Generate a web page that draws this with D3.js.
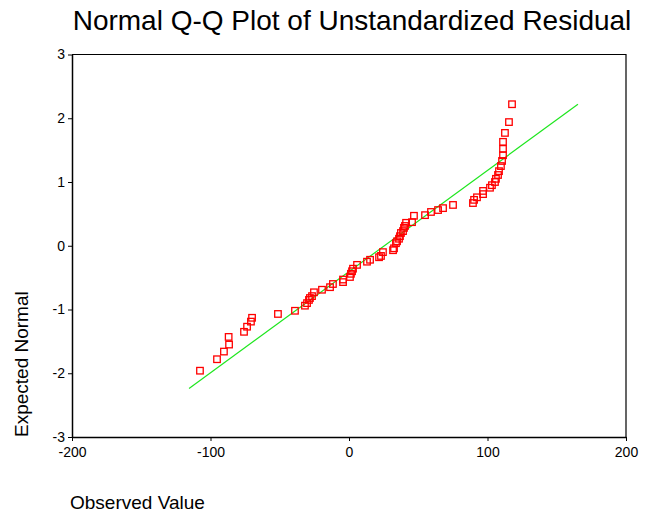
<!DOCTYPE html>
<html>
<head>
<meta charset="utf-8">
<script src="https://cdn.jsdelivr.net/npm/d3@7"></script>
<style>
  html, body { margin: 0; padding: 0; background: #fff; }
  svg { display: block; font-family: "Liberation Sans", Arial, sans-serif; }
</style>
</head>
<body>
<svg id="chart" width="645" height="516"></svg>
<script>
// Observed residuals (x) and expected normal values (y)
const observed = [-107.6, -95.3, -90.3, -86.6, -86.9, -75.8, -73.6, -70.8, -70.0, -51.3,
  -39.0, -31.8, -30.3, -28.9, -28.2, -26.7, -25.3, -19.5, -13.7, -11.6,
  -4.3, -4.3, 0.7, 1.4, 2.2, 2.9, 5.8, 13.0, 15.2, 21.7,
  23.1, 24.5, 31.8, 32.5, 33.9, 34.7, 36.1, 36.8, 37.5, 39.0,
  39.7, 40.4, 41.2, 45.5, 46.9, 54.9, 59.2, 64.3, 67.9, 75.1,
  89.5, 90.3, 92.4, 96.8, 96.8, 101.8, 103.2, 105.4, 106.1, 107.6,
  108.3, 109.7, 110.5, 111.2, 111.2, 111.2, 112.6, 115.5, 117.7];
const expected = [-1.96, -1.78, -1.66, -1.55, -1.43, -1.35, -1.27, -1.19, -1.13, -1.07,
  -1.02, -0.94, -0.90, -0.85, -0.82, -0.79, -0.73, -0.69, -0.65, -0.60,
  -0.57, -0.53, -0.49, -0.44, -0.40, -0.36, -0.30, -0.25, -0.22, -0.18,
  -0.16, -0.10, -0.07, -0.04, 0.04, 0.07, 0.11, 0.15, 0.20, 0.23,
  0.28, 0.31, 0.36, 0.37, 0.47, 0.48, 0.53, 0.56, 0.59, 0.64,
  0.67, 0.72, 0.76, 0.81, 0.86, 0.91, 0.95, 1.00, 1.05, 1.11,
  1.17, 1.25, 1.33, 1.42, 1.52, 1.63, 1.77, 1.94, 2.22];
// Reference line endpoints
const lineX = [-115.5, 165.3];
const lineY = [-2.24, 2.22];
// Tick values
const xTicks = [-200, -100, 0, 100, 200];
const yTicks = [-3, -2, -1, 0, 1, 2, 3];

(function () {
const svg = d3.select("#chart");
const mL = 72, mR = 626, mT = 54.5, mB = 437;
const x = d3.scaleLinear().domain([-200, 200]).range([mL, mR]);
const y = d3.scaleLinear().domain([-3, 3]).range([mB, mT]);
const fmt = d => String(d);

// Title
svg.append("text")
  .attr("x", 352).attr("y", 30)
  .attr("text-anchor", "middle")
  .attr("font-size", 28)
  .attr("fill", "#000")
  .text("Normal Q-Q Plot of Unstandardized Residual");

// Frame (top and right)
svg.append("path")
  .attr("d", `M${mL},${mT}H${mR}V${mB}`)
  .attr("fill", "none").attr("stroke", "#000").attr("stroke-width", 1.2);

// Axes
const xAxis = d3.axisBottom(x).tickValues(xTicks).tickSize(4).tickSizeOuter(0).tickFormat(fmt);
const gx = svg.append("g").attr("transform", `translate(0,${mB})`).call(xAxis);
gx.select(".domain").attr("stroke", "#000").attr("stroke-width", 1.5);
gx.selectAll(".tick line").attr("stroke", "#000");
gx.selectAll(".tick text").attr("font-size", 14).attr("font-family", "Liberation Sans, Arial, sans-serif").attr("fill", "#000").attr("dy", "0.9em");

const yAxis = d3.axisLeft(y).tickValues(yTicks).tickSize(4).tickSizeOuter(0).tickFormat(fmt);
const gy = svg.append("g").attr("transform", `translate(${mL},0)`).call(yAxis);
gy.select(".domain").attr("stroke", "#000").attr("stroke-width", 1.5);
gy.selectAll(".tick line").attr("stroke", "#000");
gy.selectAll(".tick text").attr("font-size", 14).attr("font-family", "Liberation Sans, Arial, sans-serif").attr("fill", "#000").attr("x", -7);

// Reference line
svg.append("line")
  .attr("x1", x(lineX[0])).attr("y1", y(lineY[0]))
  .attr("x2", x(lineX[1])).attr("y2", y(lineY[1]))
  .attr("stroke", "#1ee61e").attr("stroke-width", 1.2);

// Points (open squares)
const pts = observed.map((v, i) => ({ x: v, y: expected[i] }));
const s = 6.5;
svg.append("g").selectAll("rect").data(pts).join("rect")
  .attr("x", d => x(d.x) - s / 2)
  .attr("y", d => y(d.y) - s / 2)
  .attr("width", s).attr("height", s)
  .attr("fill", "none")
  .attr("stroke", "#ff0000")
  .attr("stroke-width", 1.3);

// Axis titles
svg.append("text")
  .attr("transform", `translate(28,${mB}) rotate(-90)`)
  .attr("text-anchor", "start")
  .attr("font-size", 19)
  .attr("fill", "#000")
  .text("Expected Normal");

svg.append("text")
  .attr("x", 70).attr("y", 509)
  .attr("text-anchor", "start")
  .attr("font-size", 19)
  .attr("fill", "#000")
  .text("Observed Value");
})();
</script>
</body>
</html>
